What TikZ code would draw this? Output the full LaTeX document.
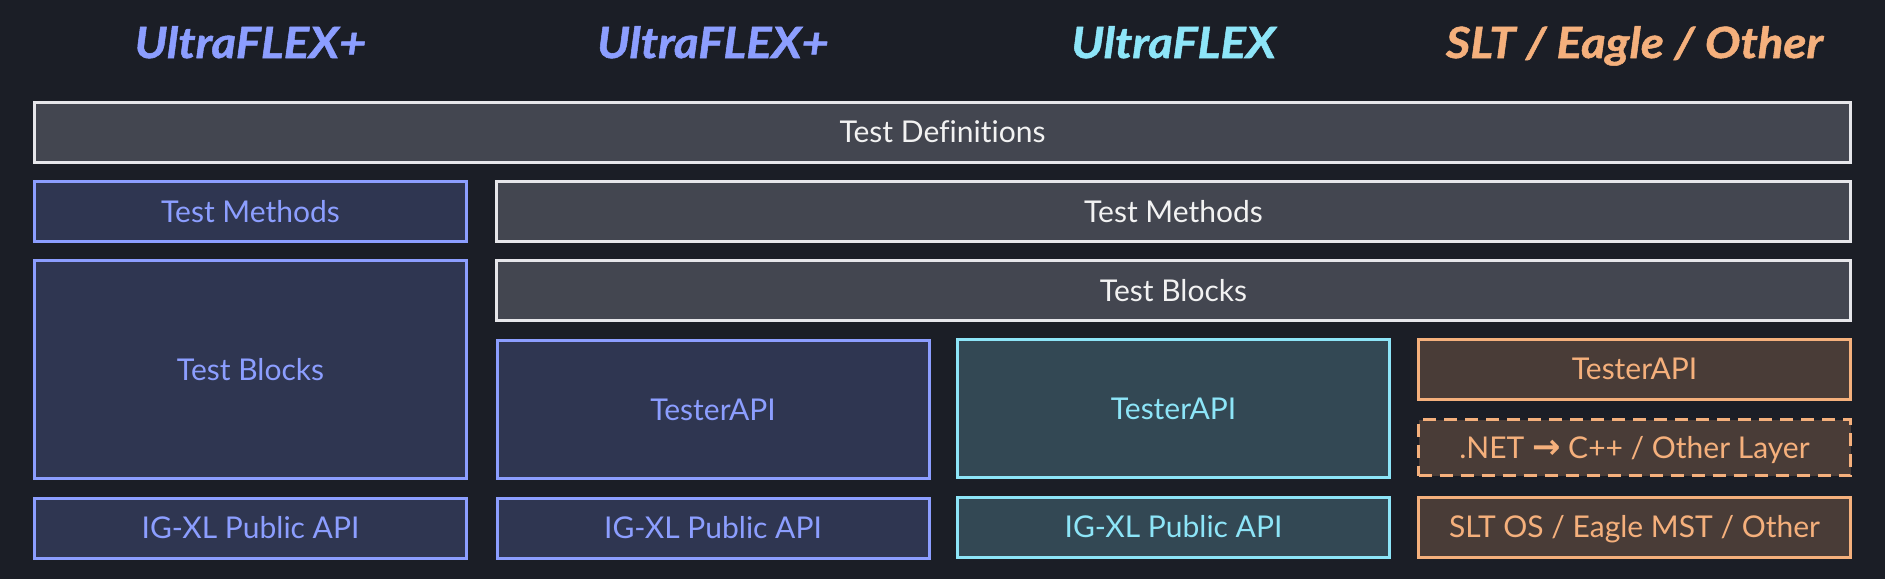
\documentclass[tikz,border=0pt]{standalone}
\usepackage{fontspec}
\setmainfont{Lato}[Ligatures=NoCommon]
\newfontfamily\headfont{Lato}[FakeStretch=1.1,BoldItalicFeatures={FakeBold=1.2}]
\newfontfamily\arrowfont{DejaVu Sans}
\definecolor{bgcol}{HTML}{1B1E26}
\definecolor{grayfill}{HTML}{434650}
\definecolor{grayline}{HTML}{E6E6EA}
\definecolor{graytext}{HTML}{F2F2F2}
\definecolor{bluefill}{HTML}{2F3651}
\definecolor{blueline}{HTML}{8C9EFF}
\definecolor{cyanfill}{HTML}{334854}
\definecolor{cyanline}{HTML}{8DE5F8}
\definecolor{orangefill}{HTML}{493C37}
\definecolor{orangeline}{HTML}{F5B07C}

\begin{document}
\begin{tikzpicture}[x=1pt,y=-1pt,
  box/.style={draw,line width=3pt,minimum width=432pt,minimum height=60pt,inner sep=0pt,
    text height=21.5pt,text depth=0pt,font=\fontsize{30}{36}\selectfont},
  graybox/.style={box,draw=grayline,fill=grayfill,text=graytext},
  bluebox/.style={box,draw=blueline,fill=bluefill,text=blueline},
  cyanbox/.style={box,draw=cyanline,fill=cyanfill,text=cyanline},
  orangebox/.style={box,draw=orangeline,fill=orangefill,text=orangeline},
  head/.style={anchor=base,inner sep=0pt,font=\fontsize{43}{50}\headfont\bfseries\itshape}]
\fill[bgcol] (0,0) rectangle (1885,579);
\useasboundingbox (0,0) rectangle (1885,579);
% column headers
\node[head,text=blueline] (hdA) at (250.5,58) {UltraFLEX+};
\node[head,text=blueline] (hdB) at (713,58) {UltraFLEX+};
\node[head,text=cyanline] (hdC) at (1173.5,58) {UltraFLEX};
\node[head,text=orangeline] (hdD) at (1634.5,58) {SLT / Eagle / Other};
% shared layers
\node[graybox,minimum width=1816pt] (defs) at (942.5,132) {Test Definitions};
\node[graybox,minimum width=1354pt] (meth) at (1173.5,211.5) {Test Methods};
\node[graybox,minimum width=1354pt] (blk) at (1173.5,290.5) {Test Blocks};
% UltraFLEX+ (own stack)
\node[bluebox] (methA) at (250.5,211.5) {Test Methods};
\node[bluebox,minimum height=218pt] (blkA) at (250.5,369.5) {Test Blocks};
\node[bluebox] (pubA) at (250.5,528) {IG-XL Public API};
% UltraFLEX+
\node[bluebox,minimum height=138pt] (apiB) at (713,409.5) {TesterAPI};
\node[bluebox] (pubB) at (713,528) {IG-XL Public API};
% UltraFLEX
\node[cyanbox,minimum height=138pt] (apiC) at (1173.5,408.5) {TesterAPI};
\node[cyanbox] (pubC) at (1173.5,527) {IG-XL Public API};
% SLT / Eagle / Other
\node[orangebox] (apiD) at (1634.5,369) {TesterAPI};
\node[orangebox,minimum height=56pt,dash pattern=on 13pt off 8pt] (layerD) at (1634.5,447.5) {.NET {\arrowfont\bfseries\fontsize{34}{36}\selectfont →} C++ / Other Layer};
\node[orangebox] (osD) at (1634.5,527) {SLT OS / Eagle MST / Other};
\end{tikzpicture}
\end{document}
